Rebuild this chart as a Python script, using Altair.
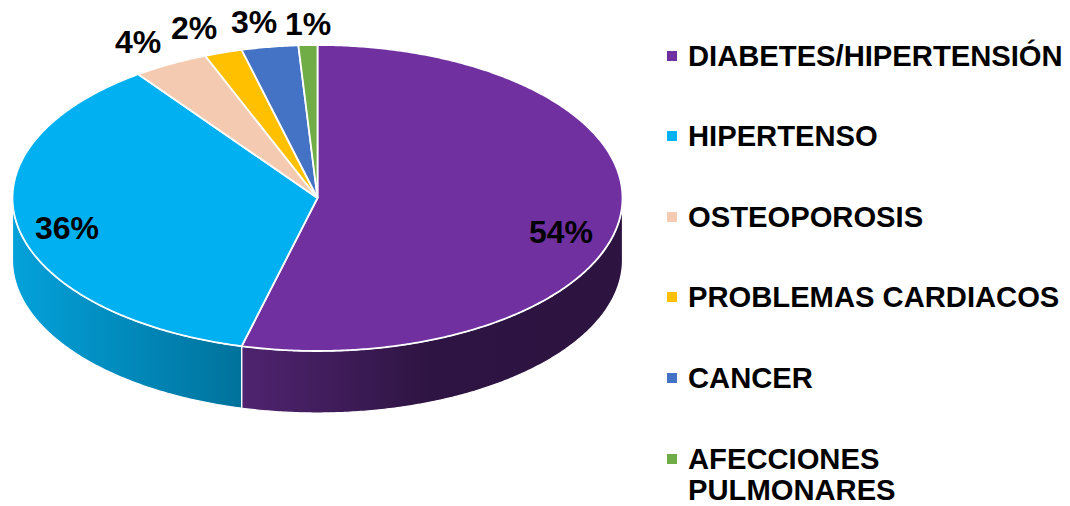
import math
import altair as alt

categories = ["DIABETES/HIPERTENSIÓN", "HIPERTENSO", "OSTEOPOROSIS", "PROBLEMAS CARDIACOS", "CANCER", "AFECCIONES PULMONARES"]
values = [54, 36, 4, 2, 3, 1]
colors = ["#7030A0", "#00B0F0", "#F4CBB0", "#FFC000", "#4472C4", "#70AD47"]
labels = ["54%", "36%", "4%", "2%", "3%", "1%"]
legend_lines = [["DIABETES/HIPERTENSIÓN"], ["HIPERTENSO"], ["OSTEOPOROSIS"], ["PROBLEMAS CARDIACOS"], ["CANCER"], ["AFECCIONES", "PULMONARES"]]
label_x = [553, 59, 130, 186, 246, 300]
label_y = [225, 221, 35, 21, 15, 17]
legend_y = [48, 128, 209, 289, 370, 451]

CX, CY, RX, RY, DEPTH = 309.5, 190, 305, 153, 62
total = sum(values)


def pt(deg, dy=0):
    a = math.radians(deg)
    return [CX + RX * math.sin(a), CY - RY * math.cos(a) + dy]


def arc(a0, a1, dy=0):
    n = max(2, int(abs(a1 - a0) * 2))
    return [pt(a0 + (a1 - a0) * i / n, dy) for i in range(n + 1)]


def feature(ring, name):
    return {"type": "Feature", "properties": {"name": name},
            "geometry": {"type": "Polygon", "coordinates": [ring + [ring[0]]]}}


tops = []
angle = 0
bounds = []
for name, v in zip(categories, values):
    a1 = angle + 360 * v / total
    tops.append(feature([[CX, CY]] + arc(angle, a1), name))
    bounds.append((angle, a1))
    angle = a1


def side(a0, a1, name):
    return feature(arc(a0, a1) + arc(a1, a0, DEPTH), name)


def geo(features):
    return alt.InlineData(values={"type": "FeatureCollection", "features": features},
                          format=alt.DataFormat(property="features", type="json"))


proj = alt.Projection(type="identity", scale=1, translate=[0, 0])
color_scale = alt.Scale(domain=categories, range=colors)

purple_side = alt.Chart(geo([side(90, bounds[0][1], categories[0])])).mark_geoshape(
    stroke="white", strokeWidth=1.2,
    fill=alt.Gradient(gradient="linear", x1=1, x2=0, y1=0, y2=0,
                      stops=[alt.GradientStop(offset=0, color="#2D1340"),
                             alt.GradientStop(offset=0.5, color="#2E1442"),
                             alt.GradientStop(offset=1, color="#4F2470")]))
blue_side = alt.Chart(geo([side(bounds[1][0], 270, categories[1])])).mark_geoshape(
    stroke="white", strokeWidth=1.2,
    fill=alt.Gradient(gradient="linear", x1=1, x2=0, y1=0, y2=0,
                      stops=[alt.GradientStop(offset=0, color="#00729C"),
                             alt.GradientStop(offset=1, color="#03A1DA")]))

top = alt.Chart(geo(tops)).mark_geoshape(stroke="white", strokeWidth=1.8).encode(
    color=alt.Color("properties.name:N", scale=color_scale, legend=None))

text = alt.Chart(alt.Data(values=[{"t": t, "x": x, "y": y} for t, x, y in zip(labels, label_x, label_y)])).mark_text(
    font="Liberation Sans", fontWeight="bold", fontSize=32, color="black", align="center", baseline="middle"
).encode(x=alt.X("x:Q", scale=None, axis=None), y=alt.Y("y:Q", scale=None, axis=None), text="t:N")

legend_data = alt.Data(values=[{"name": n, "lines": l, "y": y} for n, l, y in zip(categories, legend_lines, legend_y)])
legend_symbols = alt.Chart(legend_data).mark_square(size=100, opacity=1).encode(
    x=alt.value(664),
    y=alt.Y("y:Q", scale=None, axis=None),
    color=alt.Color("name:N", scale=color_scale, legend=None))
legend_text = alt.Chart(legend_data).transform_calculate(ty="datum.y + 10").mark_text(
    font="Liberation Sans", fontWeight="bold", fontSize=29.2, color="black", align="left",
    baseline="alphabetic", lineHeight=31
).encode(x=alt.value(680), y=alt.Y("ty:Q", scale=None, axis=None), text="lines:N")

chart = alt.layer(purple_side, blue_side, top, text, legend_symbols, legend_text).properties(
    width=1054, height=494, projection=proj, padding=0, autosize=alt.AutoSizeParams(type="none")
).configure_view(stroke=None)

chart.save("out.html", embed_options={"renderer": "svg", "actions": False})
